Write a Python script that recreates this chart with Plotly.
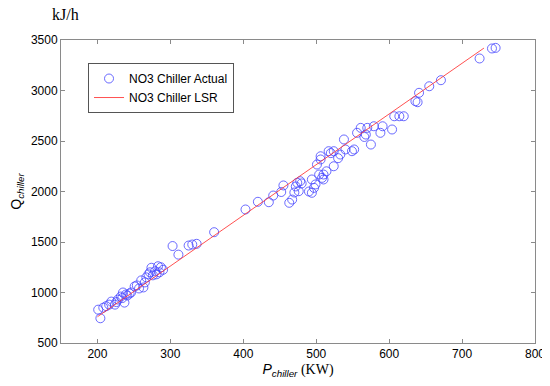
import plotly.graph_objects as go

p_actual = [204, 201, 208, 212, 216, 219, 224, 226, 228, 232, 234, 237, 235, 239, 241, 244, 246,
            251, 254, 257, 260, 263, 265, 267, 270, 272, 274, 276, 279, 281, 283, 285, 287, 290,
            303, 311, 325, 330, 336, 360, 403, 420, 435, 441, 452, 455, 463, 467, 470, 472, 474,
            476, 478, 480, 490, 494, 494, 497, 499, 501, 504, 506, 506, 508, 510, 510, 514, 517,
            520, 524, 524, 530, 533, 538, 540, 549, 552, 556, 561, 566, 568, 570, 575, 579, 588,
            591, 604, 607, 614, 620, 636, 639, 641, 655, 671, 724, 741, 746]
q_actual = [745, 830, 850, 865, 880, 910, 880, 905, 930, 960, 945, 900, 1000, 980, 970, 990, 1000,
            1060, 1070, 1040, 1120, 1050, 1100, 1150, 1180, 1200, 1245, 1170, 1210, 1180, 1260, 1200, 1250, 1225,
            1460, 1375, 1465, 1475, 1482, 1597, 1822, 1898, 1894, 1960, 1995, 2060, 1888, 1920, 1990, 2050, 2086,
            2003, 2102, 2080, 2000, 2119, 1987, 2036, 2070, 2267, 2168, 2317, 2349, 2135, 2168, 2119, 2200, 2399,
            2380, 2250, 2399, 2330, 2366, 2515, 2416, 2399, 2416, 2581, 2630, 2540, 2564, 2630, 2465, 2646, 2581,
            2646, 2614, 2745, 2745, 2745, 2894, 2884, 2977, 3042, 3102, 3317, 3416, 3422]

p_lsr = [200, 730]
q_lsr = [760, 3420]

x_ticks = [200, 300, 400, 500, 600, 700, 800]
y_ticks = [500, 1000, 1500, 2000, 2500, 3000, 3500]

fig = go.Figure()
fig.add_trace(go.Scatter(
    x=p_actual, y=q_actual, mode="markers", name="NO3 Chiller Actual",
    marker=dict(symbol="circle-open", size=9, color="rgba(70,70,255,0.8)", line=dict(width=1))))
fig.add_trace(go.Scatter(
    x=p_lsr, y=q_lsr, mode="lines", name="NO3 Chiller LSR",
    line=dict(color="rgba(255,50,50,0.85)", width=1)))

axis_common = dict(showline=True, linecolor="#8a8a8a", linewidth=1, mirror="ticks",
                   ticks="inside", ticklen=4, tickcolor="#8a8a8a", showgrid=False, zeroline=False,
                   automargin=False,
                   tickfont=dict(family="Arial, Liberation Sans", size=12, color="black"))

fig.update_layout(
    width=550, height=386,
    margin=dict(l=53, r=23, t=32, b=51),
    paper_bgcolor="white", plot_bgcolor="white",
    font=dict(family="Arial, Liberation Sans", size=12, color="black"),
    xaxis=dict(range=[150, 800], tickvals=x_ticks,
               title=dict(text="<i>P</i><sub><i>chiller</i></sub><span style='font-family:Liberation Serif'> (KW)</span>",
                          font=dict(size=14), standoff=2),
               **axis_common),
    yaxis=dict(range=[500, 3500], tickvals=y_ticks,
               title=dict(text="Q<sub><i>chiller</i></sub>", font=dict(size=14), standoff=6),
               **axis_common),
    legend=dict(x=0.057, y=0.924, xanchor="left", yanchor="top",
                bordercolor="#555555", borderwidth=1, bgcolor="white",
                font=dict(family="Arial, Liberation Sans", size=12), tracegroupgap=0,
                itemwidth=30),
    showlegend=True,
)
fig.add_annotation(text="kJ/h", xref="paper", yref="paper", x=-0.023, y=1.083,
                   xanchor="left", yanchor="middle", showarrow=False,
                   font=dict(family="Liberation Serif, Times New Roman", size=16, color="black"))

fig.write_html("out.html")
